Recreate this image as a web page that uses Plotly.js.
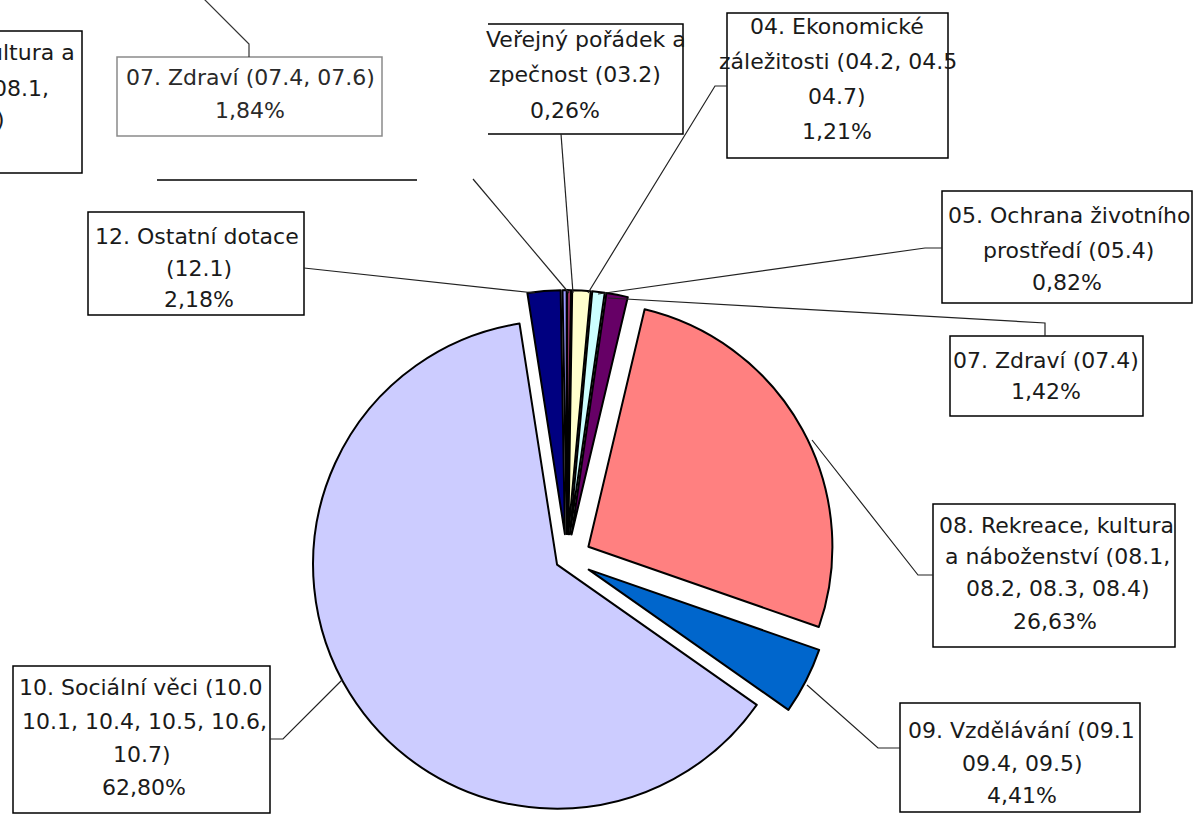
<!DOCTYPE html>
<html>
<head>
<meta charset="utf-8">
<script src="https://cdn.plot.ly/plotly-3.0.1.min.js"></script>
<style>
html,body{margin:0;padding:0;overflow:hidden;background:#fff}
#chart{width:1196px;height:880px}
</style>
</head>
<body>
<div id="chart"></div>
<script>
// ---------- data ----------
const categories = [
  "nepopsáno",
  "03. Veřejný pořádek a bezpečnost (03.2)",
  "04. Ekonomické záležitosti (04.2, 04.5, 04.7)",
  "05. Ochrana životního prostředí (05.4)",
  "07. Zdraví (07.4)",
  "08. Rekreace, kultura a náboženství (08.1, 08.2, 08.3, 08.4)",
  "09. Vzdělávání (09.1, 09.4, 09.5)",
  "10. Sociální věci (10.0, 10.1, 10.4, 10.5, 10.6, 10.7)",
  "12. Ostatní dotace (12.1)"
];
const shares = [0.27, 0.26, 1.21, 0.82, 1.42, 26.63, 4.41, 62.80, 2.18];

// visible (clipped) label lines for each labelled slice, as printed in the picture
const labelLines = {
  1: ["Veřejný pořádek a", "zpečnost (03.2)"],
  2: ["04. Ekonomické", "záležitosti (04.2, 04.5", "04.7)"],
  3: ["05. Ochrana životního", "prostředí (05.4)"],
  4: ["07. Zdraví (07.4)"],
  5: ["08. Rekreace, kultura", "a náboženství (08.1,", "08.2, 08.3, 08.4)"],
  6: ["09. Vzdělávání (09.1", "09.4, 09.5)"],
  7: ["10. Sociální věci (10.0", "10.1, 10.4, 10.5, 10.6,", "10.7)"],
  8: ["12. Ostatní dotace", "(12.1)"]
};
// fragments of the neighbouring chart visible at the top edge
const otherLabelA = ["ultura a", "08.1,", ")"];
const otherLabelB = ["07. Zdraví (07.4, 07.6)"];
const otherShareB = 1.84;

// ---------- styles ----------
const sliceColors = ["#9999FF", "#993366", "#FFFFCC", "#CCFFFF", "#660066",
                     "#FF8080", "#0066CC", "#CCCCFF", "#000080"];
const slicePull = [0.1, 0.1, 0.1, 0.1, 0.1, 0.1, 0.1, 0.048, 0.1];

const W = 1196, H = 880;
const X = x => x / W, Y = y => 1 - y / H;
const pct = v => v.toFixed(2).replace('.', ',') + '%';
const FONT = {family: 'DejaVu Sans, Liberation Sans, Arial, sans-serif', size: 22, color: '#1a1a1a'};

function txt(s, x, y, anchor, color) {
  return {text: s, x: X(x), y: Y(y), xref: 'paper', yref: 'paper',
          xanchor: anchor || 'center', yanchor: 'middle', showarrow: false,
          font: Object.assign({}, FONT, color ? {color: color} : {})};
}
function rect(x0, y0, x1, y1, color) {
  return {type: 'rect', xref: 'paper', yref: 'paper', x0: X(x0), x1: X(x1), y0: Y(y1), y1: Y(y0),
          line: {color: color || '#000', width: 1.5}, fillcolor: 'rgba(0,0,0,0)', layer: 'above'};
}
function path(pts, color, w) {
  let d = pts.map((p, i) => (i ? 'L' : 'M') + X(p[0]) + ',' + Y(p[1])).join(' ');
  return {type: 'path', xref: 'paper', yref: 'paper', path: d,
          line: {color: color || '#000', width: w || 1.2}, layer: 'above'};
}

// label layout: line center x / y for each label box
const labelLayout = [
  {i: 1, xs: [586, 575, 565], ys: [40, 75, 111]},
  {i: 2, xs: [837, 838, 837, 837], ys: [27, 61, 96, 131]},
  {i: 3, xs: [946, 1068, 1067], ys: [215, 250, 283], anchors: ['left', 'center', 'center']},
  {i: 4, xs: [1046, 1046], ys: [360, 391]},
  {i: 5, xs: [1056, 1057, 1058, 1055], ys: [525, 556, 588, 621]},
  {i: 6, xs: [1021, 1022, 1022], ys: [730, 763, 795]},
  {i: 7, xs: [141, 144, 142, 144], ys: [687, 721, 754, 787]},
  {i: 8, xs: [197, 199, 199], ys: [236, 268, 300]}
];

const annotations = [];
labelLayout.forEach(L => {
  const lines = labelLines[L.i].concat([pct(shares[L.i])]);
  lines.forEach((s, k) => annotations.push(txt(s, L.xs[k], L.ys[k], L.anchors ? L.anchors[k] : 'center')));
});
// neighbouring chart fragments
annotations.push(txt(otherLabelA[0], 77, 53, 'right'));
annotations.push(txt(otherLabelA[1], 51, 89, 'right'));
annotations.push(txt(otherLabelA[2], 7, 120, 'right'));
annotations.push(txt(otherLabelB[0], 250, 78, 'center', '#2a2a2a'));
annotations.push(txt(pct(otherShareB), 250, 111, 'center', '#2a2a2a'));

const shapes = [
  // label boxes
  rect(-60, 31, 82, 173),
  rect(117, 57, 382, 136, '#8a8a8a'),
  path([[488, 24], [683, 24], [683, 134], [488, 134]], '#000', 1.5),
  rect(727, 13, 948, 158),
  rect(942, 191, 1192, 303),
  rect(950, 336, 1143, 416),
  rect(88, 212, 304, 315),
  rect(933, 504, 1175, 647),
  rect(900, 703, 1140, 812),
  rect(13, 666, 270, 813),
  // leader lines
  path([[249, 57], [249, 44], [180, -25]], '#333'),
  path([[157, 180], [417, 180]], '#000', 1.5),
  path([[473, 179], [569, 293]], '#222'),
  path([[561, 134], [573, 293]], '#222'),
  path([[727, 86], [715, 86], [588, 293]], '#222'),
  path([[942, 248], [925, 248], [598, 294]], '#222'),
  path([[1045, 336], [1045, 323], [608, 298]], '#222'),
  path([[304, 268], [535, 293]], '#222'),
  path([[933, 575], [918, 575], [812, 440]], '#222'),
  path([[900, 748], [878, 748], [807, 685]], '#222'),
  path([[270, 739], [283, 739], [342, 680]], '#222')
];

const trace = {
  type: 'pie',
  labels: categories,
  values: shares,
  sort: false,
  direction: 'clockwise',
  rotation: -1,
  pull: slicePull,
  textinfo: 'none',
  hoverinfo: 'label+percent',
  marker: {colors: sliceColors, line: {color: '#000', width: 2}},
  domain: {x: [(567 - 268.4) / W, (567 + 268.4) / W], y: [(H - 558.5 - 268.4) / H, (H - 558.5 + 268.4) / H]},
  showlegend: false
};

Plotly.newPlot('chart', [trace], {
  width: W, height: H,
  margin: {l: 0, r: 0, t: 0, b: 0},
  paper_bgcolor: '#fff',
  showlegend: false,
  annotations: annotations,
  shapes: shapes
}, {displayModeBar: false, staticPlot: true});
</script>
</body>
</html>
